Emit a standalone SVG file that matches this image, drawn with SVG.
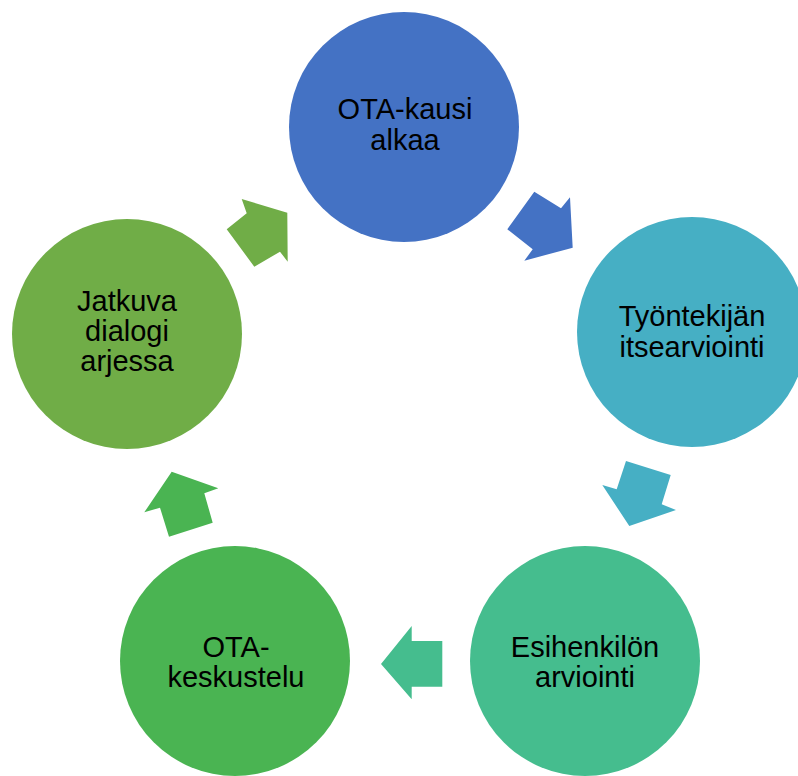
<svg xmlns="http://www.w3.org/2000/svg" width="798" height="776" viewBox="0 0 798 776">
<style>
text{font-family:"Liberation Sans",Arial,sans-serif;font-size:29px;fill:#000;text-anchor:middle}
.c1{fill:#4472C4}.c2{fill:#46AFC4}.c3{fill:#45BD8E}.c4{fill:#4AB452}.c5{fill:#70AD47}
</style>
<rect width="798" height="776" fill="#fff"/>
<g id="connectors">
<polygon class="c1" points="507.3,229.3 534.3,191.7 561,208.3 570,197.3 572.7,247.7 524.3,260.7 532.7,249.3"/>
<polygon class="c2" points="626,461 670.7,475 661.7,504.3 676,510 629.3,526 602.3,485 616.7,489.3"/>
<polygon class="c3" points="442.3,641 442.3,686.7 411.7,686.7 411.7,699.3 381,664 411.7,626 411.7,641"/>
<polygon class="c4" points="144.3,512.3 171.7,471.7 218.3,488.3 204.3,493.3 212.7,522.7 169,536.7 160,507.7"/>
<polygon class="c5" points="226.7,229.3 246.7,213.3 241.7,199 287.3,212.7 287.7,261.7 280,251.7 254.3,266.7"/>
</g>
<g id="n1">
<circle class="c1" cx="404" cy="127" r="115"/>
<text x="405" y="119">OTA-kausi</text>
<text x="405" y="150">alkaa</text>
</g>
<g id="n2">
<circle class="c2" cx="692" cy="332" r="115"/>
<text x="692" y="326">Työntekijän</text>
<text x="692" y="357">itsearviointi</text>
</g>
<g id="n3">
<circle class="c3" cx="585" cy="661" r="115"/>
<text x="585" y="657">Esihenkilön</text>
<text x="585" y="687">arviointi</text>
</g>
<g id="n4">
<circle class="c4" cx="235" cy="661" r="115"/>
<text x="236" y="657">OTA-</text>
<text x="236" y="687">keskustelu</text>
</g>
<g id="n5">
<circle class="c5" cx="127" cy="334" r="115"/>
<text x="127" y="311">Jatkuva</text>
<text x="127" y="341">dialogi</text>
<text x="127" y="371">arjessa</text>
</g>
</svg>
